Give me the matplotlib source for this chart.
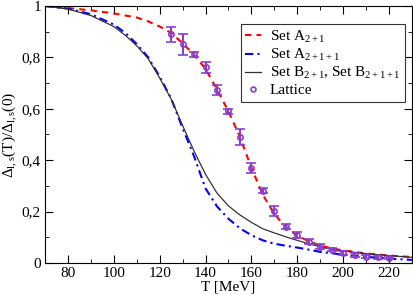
import numpy as np
import matplotlib
matplotlib.use('Agg')
import matplotlib.pyplot as plt
from matplotlib.ticker import MultipleLocator, FuncFormatter
from matplotlib.lines import Line2D

plt.rcParams['font.family'] = ['Liberation Serif', 'DejaVu Serif']
plt.rcParams['mathtext.fontset'] = 'custom'
plt.rcParams['mathtext.rm'] = 'Liberation Serif'
plt.rcParams['mathtext.it'] = 'Liberation Serif:italic'

# courbes
T_curve = [70, 80, 90, 100, 105, 110, 115, 120, 125, 130, 135, 140, 145, 150,
           155, 160, 165, 170, 175, 180, 185, 190, 195, 200, 210, 220, 230]
setA21 = [1.0, 0.992, 0.983, 0.971, 0.963, 0.955, 0.94, 0.92, 0.895, 0.855, 0.81,
          0.755, 0.675, 0.59, 0.49, 0.37, 0.265, 0.19, 0.14, 0.106, 0.085, 0.068,
          0.057, 0.049, 0.037, 0.029, 0.023]
setA211 = [1.0, 0.99, 0.968, 0.928, 0.895, 0.852, 0.80, 0.725, 0.64, 0.525, 0.415,
           0.29, 0.22, 0.172, 0.135, 0.108, 0.088, 0.075, 0.067, 0.06, 0.052, 0.043,
           0.038, 0.032, 0.024, 0.017, 0.012]
setB = [1.0, 0.988, 0.963, 0.92, 0.886, 0.845, 0.795, 0.72, 0.638, 0.535, 0.435,
        0.345, 0.272, 0.222, 0.187, 0.158, 0.133, 0.117, 0.102, 0.088, 0.075, 0.063,
        0.053, 0.047, 0.036, 0.029, 0.022]

# points du réseau
T_lat = [125, 130, 135, 140, 145, 150, 155, 160, 165, 170, 175, 180, 185, 190,
         195, 200, 205, 210, 215, 220]
lat = [0.89, 0.851, 0.812, 0.761, 0.672, 0.59, 0.491, 0.371, 0.281, 0.201, 0.141,
       0.109, 0.083, 0.064, 0.052, 0.039, 0.031, 0.025, 0.022, 0.018]
lat_err = [0.03, 0.04, 0.01, 0.02, 0.02, 0.01, 0.03, 0.02, 0.01, 0.02, 0.01,
           0.012, 0.01, 0.008, 0.005, 0.007, 0.006, 0.005, 0.005, 0.004]

violet = '#8a3fc8'

fig = plt.figure(figsize=(4.14, 2.95), dpi=100)
ax = fig.add_axes([0.1087, 0.1085, 0.8863, 0.8712])

ax.plot(T_curve, setA21, color='red', lw=1.5, dashes=(3, 2.5), label='Set A$_{2+1}$')
ax.plot(T_curve, setA211, color='blue', lw=1.5, dashes=(4, 2, 1, 2), label='Set A$_{2+1+1}$')
ax.plot(T_curve, setB, color='#333333', lw=0.9, label='Set B$_{2+1}$, Set B$_{2+1+1}$')
ax.errorbar(T_lat, lat, yerr=lat_err, fmt='o', ms=3.8, mfc='none', mec=violet, mew=1.2,
            ecolor=violet, elinewidth=1.5, capsize=3.5, capthick=1.5)

handles, labels = ax.get_legend_handles_labels()
handles.append(Line2D([], [], ls='none', marker='o', ms=3.5, mfc='none', mec=violet, mew=1.2))
labels.append('Lattice')

ax.set_xlim(70, 230)
ax.set_ylim(0, 1)
ax.xaxis.set_major_locator(MultipleLocator(20))
ax.xaxis.set_minor_locator(MultipleLocator(10))
ax.yaxis.set_major_locator(MultipleLocator(0.2))
ax.yaxis.set_minor_locator(MultipleLocator(0.1))
ax.yaxis.set_major_formatter(FuncFormatter(lambda v, p: ('%g' % round(v, 1)).replace('.', ',')))
ax.tick_params(which='both', direction='in', top=True, right=True, labelsize=11, pad=3)
ax.tick_params(which='major', length=6)
ax.tick_params(which='minor', length=3)

ax.set_xlabel('T [MeV]', fontsize=11, labelpad=0)
ax.set_ylabel(r'$\Delta_{\mathrm{l,s}}\mathrm{(T)/}\Delta_{\mathrm{l,s}}\mathrm{(0)}$', fontsize=11, labelpad=2)

leg = ax.legend(handles, labels, loc='upper right', bbox_to_anchor=(0.981, 0.930), fontsize=11,
                frameon=True, fancybox=False, handlelength=1.0, handletextpad=0.6, borderpad=0.3,
                labelspacing=0.15, borderaxespad=0, framealpha=1)
leg.get_frame().set_edgecolor('#333333')
leg.get_frame().set_linewidth(0.8)

plt.savefig('out.png', dpi=100)
